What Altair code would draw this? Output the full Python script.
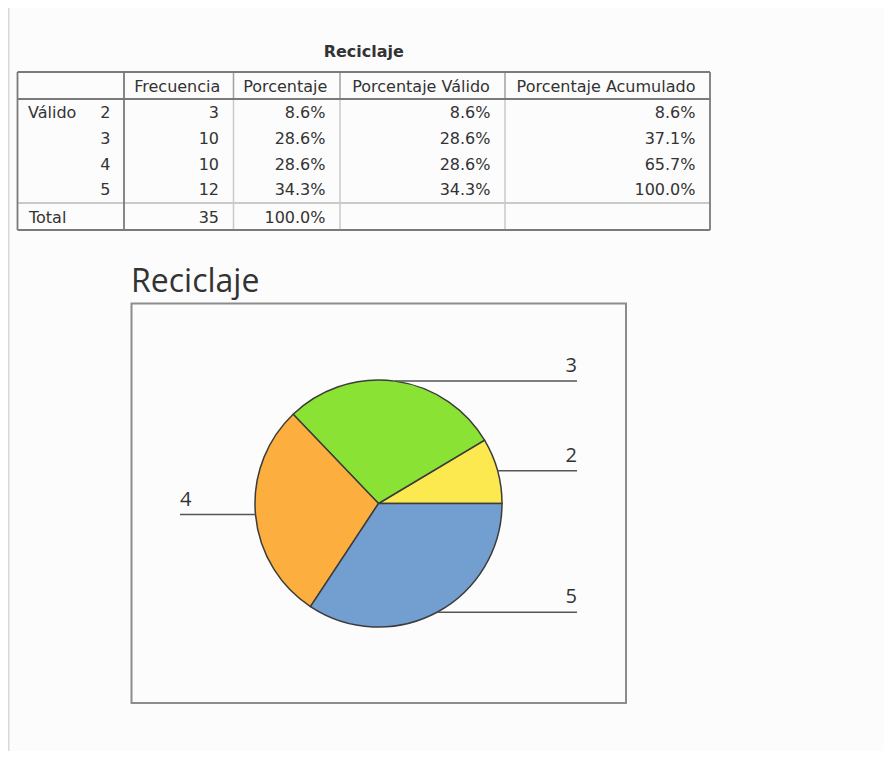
import math
import altair as alt
import pandas as pd

# ---------------- data ----------------
title = "Reciclaje"
row_group = "Válido"
categories = [2, 3, 4, 5]
frequencies = [3, 10, 10, 12]
percent = ["8.6%", "28.6%", "28.6%", "34.3%"]
valid_percent = ["8.6%", "28.6%", "28.6%", "34.3%"]
cumulative_percent = ["8.6%", "37.1%", "65.7%", "100.0%"]
total_label = "Total"
total_frequency = "35"
total_percent = "100.0%"
headers = ["Frecuencia", "Porcentaje", "Porcentaje Válido", "Porcentaje Acumulado"]
slice_colors = ["#FCE94F", "#8AE234", "#FCAF3E", "#729FCF"]

# ---------------- layout (page pixel frame) ----------------
W, H = 876, 743
X0, Y0 = 8, 8
xs = alt.Scale(domain=[X0, X0 + W], nice=False, zero=False)
ys = alt.Scale(domain=[Y0, Y0 + H], nice=False, zero=False, reverse=True)

TXT = "#333333"
DARK = "#7a7a7a"
MID = "#a0a0a0"
LIGHT = "#cacaca"

col_edges = [17.5, 124, 233.5, 340, 505, 710]
t_top, t_head, t_sep, t_bottom = 72, 99, 203, 230
head_base = 91.5
row_base0, row_pitch = 118, 25.8
total_base = 223

CX, CY, R = 378.5, 503.5, 123.5
LEAD = 198.5
FRAME = (131.5, 303.5, 626, 703)


def X(field, **kw):
    return alt.X(field, type="quantitative", scale=xs, axis=None, **kw)


def Y(field, **kw):
    return alt.Y(field, type="quantitative", scale=ys, axis=None, **kw)


# ---------------- table ----------------
rules = []
def seg(x1, y1, x2, y2, c, w):
    rules.append(dict(x=x1, y=y1, x2=x2, y2=y2, c=c, w=w))

for xe in col_edges[2:5]:
    seg(xe, t_top, xe, t_head, MID, 1.5)
    seg(xe, t_head, xe, t_bottom, LIGHT, 1.5)
seg(col_edges[0], t_sep, col_edges[-1], t_sep, LIGHT, 2)
seg(col_edges[0], t_top, col_edges[-1], t_top, DARK, 1.8)
seg(col_edges[0], t_head, col_edges[-1], t_head, DARK, 1.8)
seg(col_edges[0], t_bottom, col_edges[-1], t_bottom, DARK, 1.8)
seg(col_edges[0], t_top, col_edges[0], t_bottom, DARK, 1.8)
seg(col_edges[-1], t_top, col_edges[-1], t_bottom, DARK, 1.8)
seg(col_edges[1], t_top, col_edges[1], t_bottom, DARK, 1.8)
rules_df = pd.DataFrame(rules)

table_rules = alt.Chart(rules_df).mark_rule().encode(
    x=X("x"), x2="x2", y=Y("y"), y2="y2",
    color=alt.Color("c:N", scale=None),
    strokeWidth=alt.StrokeWidth("w:Q", scale=None),
)

head_df = pd.DataFrame({
    "text": headers,
    "x": [(col_edges[j] + col_edges[j + 1]) / 2 - 1.5 for j in range(1, 5)],
    "y": [head_base] * 4,
})

value_rows = []
columns = [[str(f) for f in frequencies], percent, valid_percent, cumulative_percent]
for i in range(len(categories)):
    for j, col in enumerate(columns):
        value_rows.append(dict(text=col[i], x=col_edges[j + 2] - 14.5,
                               y=row_base0 + row_pitch * i))
value_rows.append(dict(text=total_frequency, x=col_edges[2] - 14.5, y=total_base))
value_rows.append(dict(text=total_percent, x=col_edges[3] - 14.5, y=total_base))
for i, c in enumerate(categories):
    value_rows.append(dict(text=str(c), x=110.5, y=row_base0 + row_pitch * i))
values_df = pd.DataFrame(value_rows)

label_df = pd.DataFrame({
    "text": [row_group, total_label],
    "x": [28, 29],
    "y": [row_base0, total_base],
})

tfont = dict(font="DejaVu Sans", fontSize=16, color=TXT, baseline="alphabetic")
table_head = alt.Chart(head_df).mark_text(align="center", **tfont).encode(
    x=X("x"), y=Y("y"), text="text:N")
table_values = alt.Chart(values_df).mark_text(align="right", **tfont).encode(
    x=X("x"), y=Y("y"), text="text:N")
table_labels = alt.Chart(label_df).mark_text(align="left", **tfont).encode(
    x=X("x"), y=Y("y"), text="text:N")

table_title = alt.Chart(pd.DataFrame({"text": [title], "x": [(col_edges[0] + col_edges[-1]) / 2],
                                      "y": [56.5]})).mark_text(
    align="center", font="DejaVu Sans", fontSize=16, fontWeight="bold",
    color=TXT, baseline="alphabetic").encode(x=X("x"), y=Y("y"), text="text:N")

# ---------------- pie ----------------
pie_df = pd.DataFrame({"cat": categories, "freq": frequencies})

frame = alt.Chart(pd.DataFrame({"x": [FRAME[0]], "y": [FRAME[1]], "x2": [FRAME[2]],
                                "y2": [FRAME[3]]})).mark_rect(
    fillOpacity=0, stroke="#8c8c8c", strokeWidth=2).encode(
    x=X("x"), x2="x2", y=Y("y"), y2="y2")

pie_title = alt.Chart(pd.DataFrame({"text": [title], "x": [FRAME[0] - 0.5],
                                    "y": [292]})).mark_text(
    align="left", font="Open Sans", fontSize=32, color=TXT,
    baseline="alphabetic").encode(x=X("x"), y=Y("y"), text="text:N")

pie = alt.Chart(pie_df).mark_arc(radius=R, stroke="#3c3c3c", strokeWidth=1.5).encode(
    theta=alt.Theta("freq:Q", stack=True,
                    scale=alt.Scale(range=[math.pi / 2, math.pi / 2 + 2 * math.pi])),
    color=alt.Color("cat:N", scale=alt.Scale(domain=categories, range=slice_colors),
                    legend=None),
    order=alt.Order("cat:Q", sort="descending"),
    x=alt.X(datum=CX, type="quantitative", scale=xs, axis=None),
    y=alt.Y(datum=CY, type="quantitative", scale=ys, axis=None),
)

leader_base = alt.Chart(pie_df).transform_window(
    cum="sum(freq)", sort=[alt.SortField("cat", order="ascending")], frame=[None, 0]
).transform_joinaggregate(total="sum(freq)").transform_calculate(
    ang=f"PI/2 - 2*PI*(datum.cum - datum.freq/2)/datum.total"
).transform_calculate(
    px=f"{CX} + {R}*sin(datum.ang)",
    py=f"{CY} - {R}*cos(datum.ang)",
    side="sin(datum.ang) >= 0 ? 1 : -1",
).transform_calculate(
    ex=f"{CX} + datum.side*{LEAD}",
    ty="datum.py - 9",
    label="'' + datum.cat",
)

leaders = leader_base.mark_rule(color="#555555", strokeWidth=1.5).encode(
    x=X("px:Q"), x2="ex:Q", y=Y("py:Q"))

lfont = dict(font="Open Sans", fontSize=20, color=TXT, baseline="alphabetic")
labels_right = leader_base.transform_filter("datum.side > 0").mark_text(
    align="right", **lfont).encode(x=X("ex:Q"), y=Y("ty:Q"), text="label:N")
labels_left = leader_base.transform_filter("datum.side < 0").mark_text(
    align="left", **lfont).encode(x=X("ex:Q"), y=Y("ty:Q"), text="label:N")

# left gray panel edge
edge = alt.Chart(pd.DataFrame({"x": [X0 + 0.75], "y": [Y0], "y2": [Y0 + H]})).mark_rule(
    color="#d9d9d9", strokeWidth=1.5).encode(x=X("x"), y=Y("y"), y2="y2")

chart = alt.layer(
    edge, table_rules, table_title, table_head, table_values, table_labels,
    frame, pie_title, pie, leaders, labels_right, labels_left,
).properties(
    width=W, height=H, padding=0, autosize=alt.AutoSizeParams(type="none"),
    background="#fcfcfc",
).configure_view(stroke=None)

chart.save("out.html", embed_options={"renderer": "svg", "actions": False})
